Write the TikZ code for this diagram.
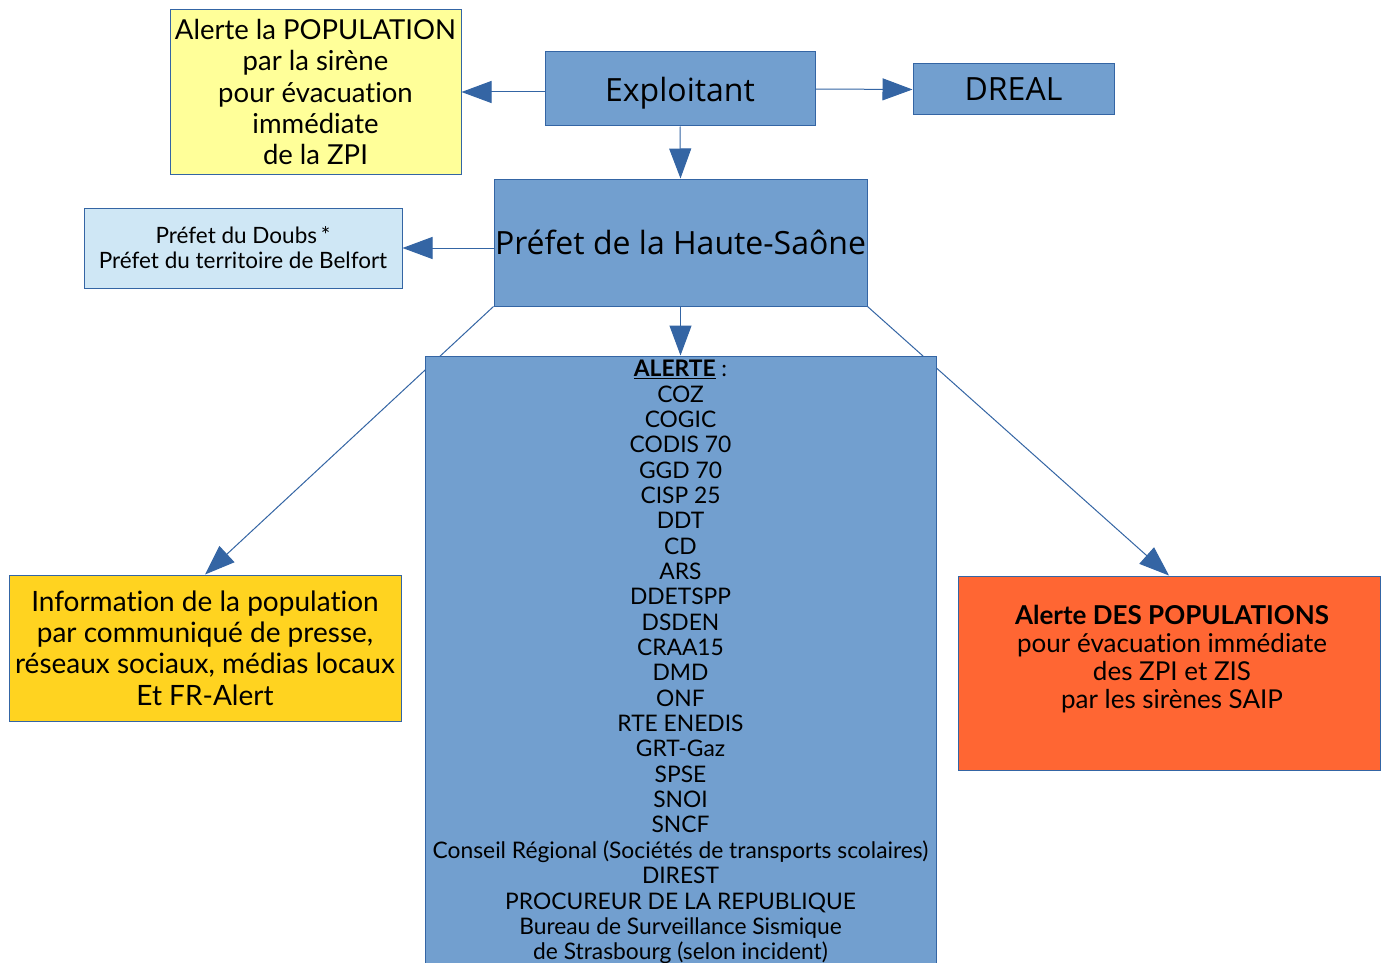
\documentclass[tikz,border=0pt]{standalone}
\usepackage{fontspec}
\setmainfont{Lato}[Ligatures={NoCommon}]
\newfontfamily\headfont{Open Sans}
\usetikzlibrary{arrows.meta}
\definecolor{boxblue}{HTML}{729FCF}
\definecolor{edgeblue}{HTML}{3465A4}
\definecolor{paleyellow}{HTML}{FFFF99}
\definecolor{paleblue}{HTML}{CFE7F5}
\definecolor{goldbox}{HTML}{FFD320}
\definecolor{orangebox}{HTML}{FF6633}
\begin{document}
\begin{tikzpicture}[x=1pt,y=-1pt,
  box/.style={draw=edgeblue, line width=1pt, rectangle, inner sep=0pt, align=center},
  headbox/.style={box, fill=boxblue, text depth=0pt, font=\headfont\fontsize{32}{38}\selectfont},
  link/.style={draw=edgeblue, line width=1pt, -{Triangle[length=30pt,width=22pt]}},
  plain/.style={inner sep=0pt, align=center}
]
\clip (0,0) rectangle (1383,963);
\fill[white] (0,0) rectangle (1383,963);

% top row
\node[box, fill=paleyellow, minimum width=291pt, minimum height=164pt,
      font=\fontsize{27.5}{31.3}\selectfont] (yellow) at (315.5,92)
  {Alerte la POPULATION\\par la sirène\\pour évacuation\\immédiate\\de la ZPI};
\node[headbox, minimum width=270pt, minimum height=74pt] (exploit) at (680,89) {Exploitant};
\node[headbox, minimum width=201pt, minimum height=51pt] (dreal) at (1013.5,89.5) {DREAL};

% prefecture level
\node[headbox, minimum width=373pt, minimum height=127pt] (prefet) at (680.5,242.5) {Préfet de la Haute-Saône};
\node[box, fill=paleblue, minimum width=318pt, minimum height=80pt,
      font=\fontsize{22.5}{25}\selectfont] (doubs) at (243,248)
  {Préfet du Doubs\,*\\Préfet du territoire de Belfort};

% lower side boxes
\node[box, fill=goldbox, minimum width=392pt, minimum height=146pt,
      font=\fontsize{28}{31.3}\selectfont] (info) at (205,648)
  {Information de la population\\par communiqué de presse,\\réseaux sociaux, médias locaux\\Et FR-Alert};
\node[box, fill=orangebox, minimum width=422pt, minimum height=194pt] (orange) at (1169,673) {};
\node[plain, font=\fontsize{26}{28}\selectfont] (orangetext) at (1172,659)
  {\textbf{Alerte DES POPULATIONS}\\pour évacuation immédiate\\des ZPI et ZIS\\par les sirènes SAIP};

% diagonal links pass behind the alert list
\draw[link] (prefet.south west) -- (info.north);
\draw[link] (prefet.south east) -- (orange.north);

% alert list
\node[box, fill=boxblue, minimum width=511pt, minimum height=644pt] (alerte) at (680.5,678) {};
\node[plain, anchor=north, font=\fontsize{22.8}{25.35}\selectfont] (alertelist) at (680.5,360)
  {\textbf{\underline{ALERTE}} :\\COZ\\COGIC\\CODIS 70\\GGD 70\\CISP 25\\DDT\\CD\\ARS\\DDETSPP\\DSDEN\\CRAA15\\DMD\\ONF\\RTE ENEDIS\\GRT-Gaz\\SPSE\\SNOI\\SNCF\\Conseil Régional (Sociétés de transports scolaires)\\DIREST\\PROCUREUR DE LA REPUBLIQUE\\Bureau de Surveillance Sismique\\de Strasbourg (selon incident)};

% links
\draw[link] (exploit.west |- yellow.east) -- (yellow.east);
\draw[link] (exploit.east) -- (dreal.west);
\draw[link] (exploit.south) -- (prefet.north);
\draw[link] (prefet.west |- doubs.east) -- (doubs.east);
\draw[link] (prefet.south) -- (alerte.north);
\end{tikzpicture}
\end{document}
